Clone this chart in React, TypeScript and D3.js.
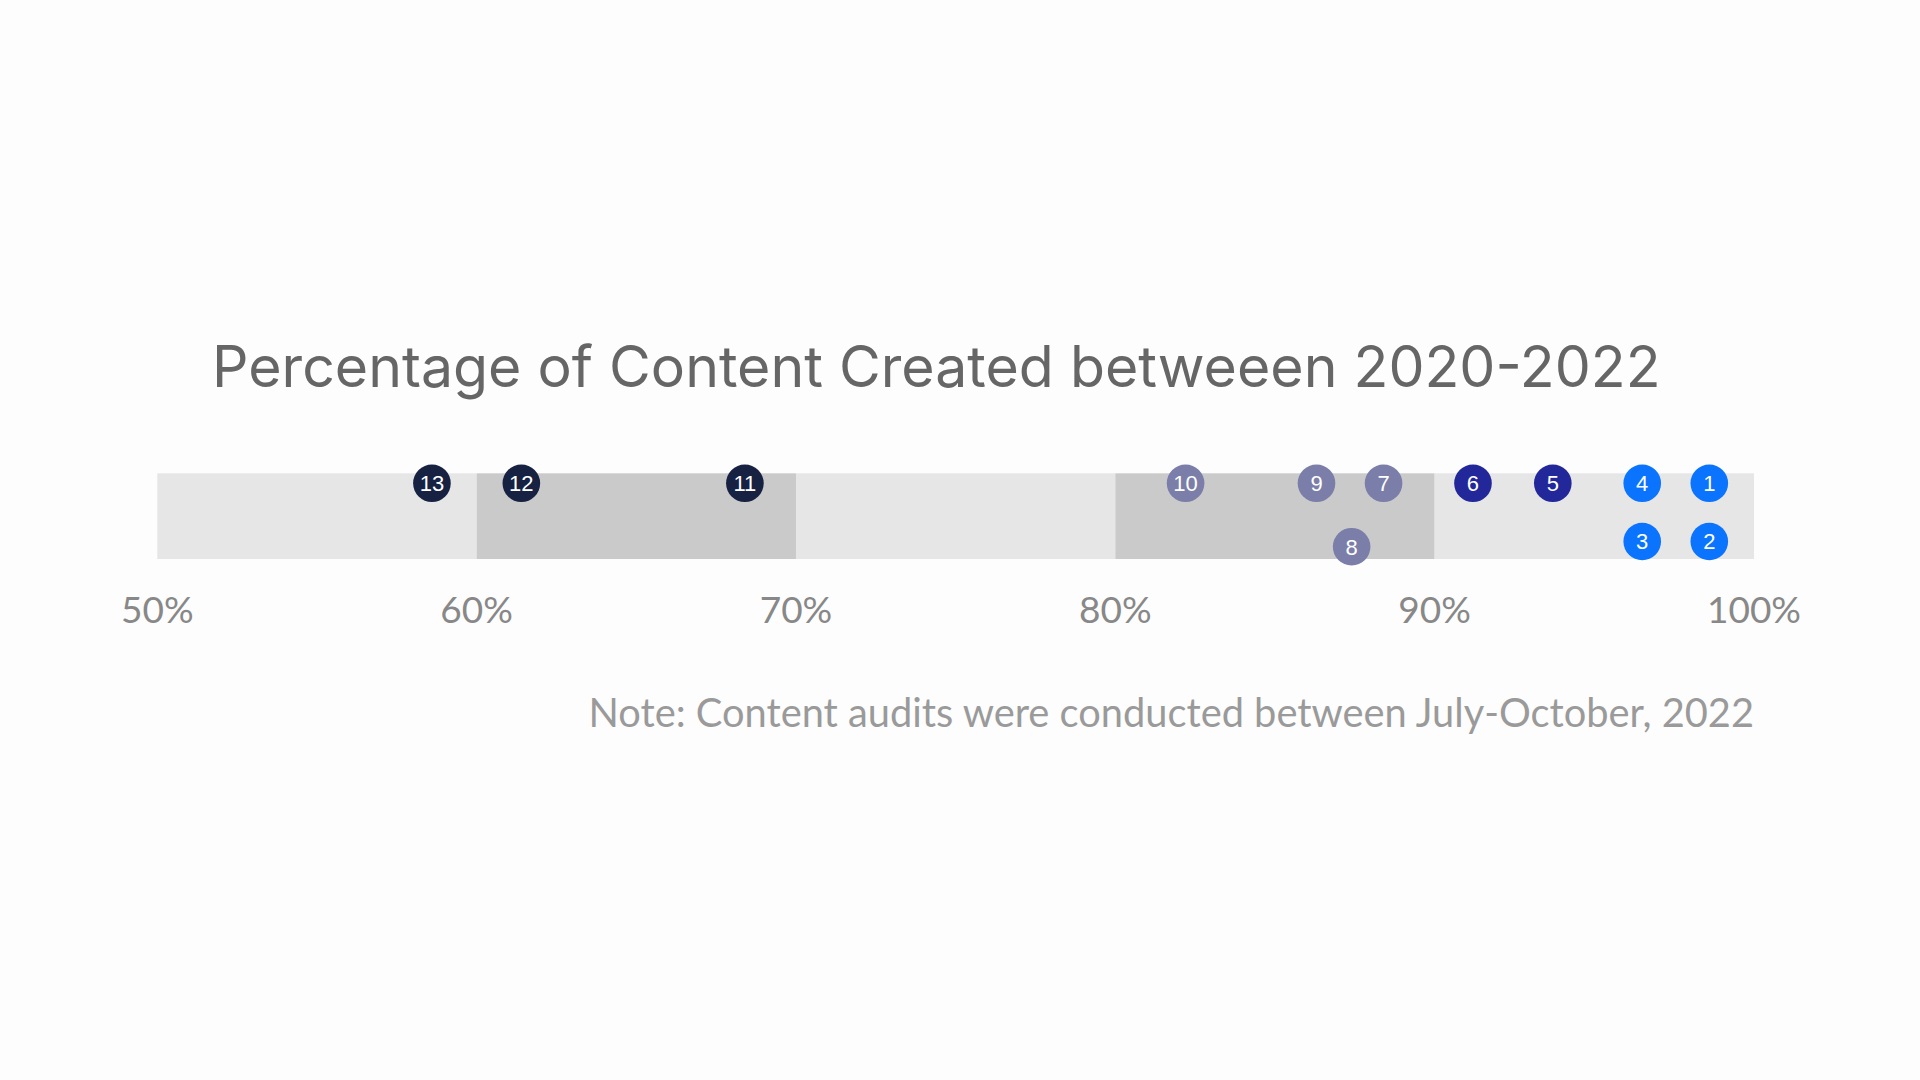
import React from "react";
import * as d3 from "d3";

const labels = ["1", "2", "3", "4", "5", "6", "7", "8", "9", "10", "11", "12", "13"];
const values = [98.6, 98.6, 96.5, 96.5, 93.7, 91.2, 88.4, 87.4, 86.3, 82.2, 68.4, 61.4, 58.6];
const lanes = [0, 1, 1, 0, 0, 0, 0, 1.09, 0, 0, 0, 0, 0];
const groups = ["a", "a", "a", "a", "b", "b", "c", "c", "c", "c", "d", "d", "d"];
const bandStarts = [50, 60, 70, 80, 90];
const bandEnds = [60, 70, 80, 90, 100];
const tickValues = [50, 60, 70, 80, 90, 100];
const title = "Percentage of Content Created betweeen 2020-2022";
const note = "Note: Content audits were conducted between July-October, 2022";

const W = 1920;
const H = 1080;
const x = d3.scaleLinear().domain([50, 100]).range([157.3, 1754]);
const yLane = d3.scaleLinear().domain([0, 1]).range([483.3, 541.5]);
const barTop = 473.3;
const barBottom = 559;
const color = d3
  .scaleOrdinal<string, string>()
  .domain(["a", "b", "c", "d"])
  .range(["#0a74ff", "#22279a", "#7a7ea8", "#172142"]);
const fmt = (v: number) => `${v}%`;

export default function App() {
  return (
    <svg
      width={W}
      height={H}
      viewBox={`0 0 ${W} ${H}`}
      style={{ position: "absolute", left: 0, top: 0, background: "#fdfdfd" }}
    >
      <text
        x={212}
        y={387}
        fontFamily="Inter, 'Liberation Sans', sans-serif"
        fontSize={57.2}
        fill="#666666"
      >
        {title}
      </text>
      {bandStarts.map((s, i) => (
        <rect
          key={i}
          x={x(s)}
          y={barTop}
          width={x(bandEnds[i]) - x(s)}
          height={barBottom - barTop}
          fill={i % 2 === 0 ? "#e6e6e6" : "#cacaca"}
        />
      ))}
      {values.map((v, i) => (
        <g key={labels[i]} transform={`translate(${x(v)},${yLane(lanes[i])})`}>
          <circle r={18.8} fill={color(groups[i])} />
          <text
            textAnchor="middle"
            dy="0.36em"
            fontFamily="'Liberation Sans', Arial, sans-serif"
            fontSize={22}
            fill="#ffffff"
          >
            {labels[i]}
          </text>
        </g>
      ))}
      {tickValues.map((t) => (
        <text
          key={t}
          x={x(t)}
          y={623}
          textAnchor="middle"
          fontFamily="Lato, 'Open Sans', sans-serif"
          fontSize={37}
          fill="#888888"
        >
          {fmt(t)}
        </text>
      ))}
      <text
        x={1754}
        y={727}
        textAnchor="end"
        fontFamily="Lato, 'Open Sans', sans-serif"
        fontSize={39.8}
        fill="#9a9a9a"
      >
        {note}
      </text>
    </svg>
  );
}
